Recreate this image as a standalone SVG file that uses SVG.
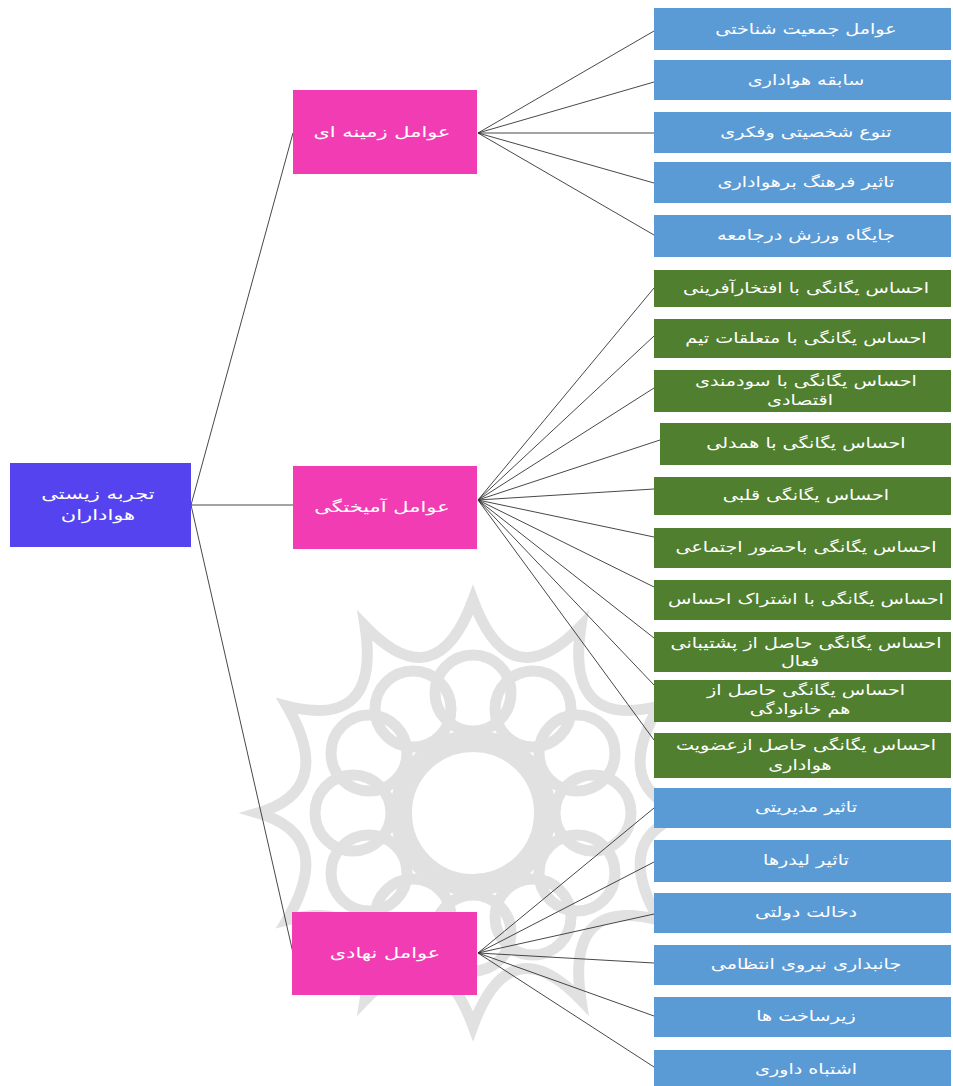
<svg xmlns="http://www.w3.org/2000/svg" width="953" height="1086" viewBox="0 0 953 1086">
<style>
.t{font-family:"DejaVu Sans","Noto Sans",sans-serif;font-size:14.5px;fill:#ffffff;text-anchor:middle;direction:rtl;transform-box:fill-box;transform-origin:center;transform:scaleX(1.32)}
.tp{font-size:15px;transform:scaleX(1.4)}
.blue{fill:#5b9bd5}
.green{fill:#4f7f2f}
.pink{fill:#f23cb4}
.root{fill:#5543f0}
.wm{fill:none;stroke:#dadada;stroke-width:11}
#connectors line{stroke:#333;stroke-width:0.9}
</style>
<rect width="953" height="1086" fill="#ffffff"/>
<g id="watermark" opacity="0.8">
<path class="wm" d="M473,600 Q510,700 581,626 Q565,730 659,706 Q610,790 688,813 Q610,836 659,920 Q565,896 581,1000 Q510,926 473,1026 Q436,926 365,1000 Q381,896 287,920 Q336,836 258,813 Q336,790 287,706 Q381,730 365,626 Q436,700 473,600 Z"/>
<g class="wm">
<circle cx="473" cy="693" r="38"/><circle cx="533" cy="709" r="38"/><circle cx="577" cy="753" r="38"/><circle cx="593" cy="813" r="38"/><circle cx="577" cy="873" r="38"/><circle cx="533" cy="917" r="38"/><circle cx="473" cy="933" r="38"/><circle cx="413" cy="917" r="38"/><circle cx="369" cy="873" r="38"/><circle cx="353" cy="813" r="38"/><circle cx="369" cy="753" r="38"/><circle cx="413" cy="709" r="38"/>
</g>
<circle cx="473" cy="813" r="72" fill="none" stroke="#dadada" stroke-width="22"/>
</g>
<g id="connectors">
<line x1="191" y1="505" x2="293" y2="133"/>
<line x1="191" y1="505" x2="293" y2="505"/>
<line x1="191" y1="505" x2="293" y2="953"/>
<line x1="478" y1="133" x2="654" y2="31"/>
<line x1="478" y1="133" x2="654" y2="82"/>
<line x1="478" y1="133" x2="654" y2="133"/>
<line x1="478" y1="133" x2="654" y2="183"/>
<line x1="478" y1="133" x2="654" y2="235"/>
<line x1="478" y1="500" x2="654" y2="288"/>
<line x1="478" y1="500" x2="654" y2="336"/>
<line x1="478" y1="500" x2="654" y2="388"/>
<line x1="478" y1="500" x2="660" y2="440"/>
<line x1="478" y1="500" x2="654" y2="489"/>
<line x1="478" y1="500" x2="654" y2="537"/>
<line x1="478" y1="500" x2="654" y2="587"/>
<line x1="478" y1="500" x2="654" y2="638"/>
<line x1="478" y1="500" x2="654" y2="685"/>
<line x1="478" y1="500" x2="654" y2="740"/>
<line x1="478" y1="953" x2="654" y2="808"/>
<line x1="478" y1="953" x2="654" y2="862"/>
<line x1="478" y1="953" x2="654" y2="914"/>
<line x1="478" y1="953" x2="654" y2="963"/>
<line x1="478" y1="953" x2="654" y2="1016"/>
<line x1="478" y1="953" x2="654" y2="1067"/>
</g>
<g id="root"><rect class="root" x="10" y="463" width="181" height="84"/><text class="t tp" x="98" y="499">تجربه زیستی</text><text class="t tp" x="98" y="520">هواداران</text></g>
<g id="p1"><rect class="pink" x="293" y="90" width="184" height="84"/><text class="t tp" x="382" y="137">عوامل زمینه ای</text></g>
<g id="p2"><rect class="pink" x="293" y="466" width="184" height="83"/><text class="t tp" x="382" y="512">عوامل آمیختگی</text></g>
<g id="p3"><rect class="pink" x="292" y="912" width="185" height="83"/><text class="t tp" x="385" y="958">عوامل نهادی</text></g>
<g id="b1"><rect class="blue" x="654" y="8" width="297" height="42"/><text class="t" x="806" y="34">عوامل جمعیت شناختی</text></g>
<g id="b2"><rect class="blue" x="654" y="60" width="297" height="40"/><text class="t" x="806" y="85">سابقه هواداری</text></g>
<g id="b3"><rect class="blue" x="654" y="112" width="297" height="41"/><text class="t" x="806" y="137">تنوع شخصیتی وفکری</text></g>
<g id="b4"><rect class="blue" x="654" y="162" width="297" height="41"/><text class="t" x="806" y="187">تاثیر فرهنگ برهواداری</text></g>
<g id="b5"><rect class="blue" x="654" y="215" width="297" height="42"/><text class="t" x="806" y="240">جایگاه ورزش درجامعه</text></g>
<g id="g1"><rect class="green" x="654" y="270" width="297" height="37"/><text class="t" x="806" y="293">احساس یگانگی با افتخارآفرینی</text></g>
<g id="g2"><rect class="green" x="654" y="319" width="297" height="39"/><text class="t" x="806" y="343">احساس یگانگی با متعلقات تیم</text></g>
<g id="g3"><rect class="green" x="654" y="370" width="297" height="42"/><text class="t" x="806" y="386">احساس یگانگی با سودمندی</text><text class="t" x="800" y="405">اقتصادی</text></g>
<g id="g4"><rect class="green" x="660" y="423" width="291" height="42"/><text class="t" x="806" y="448">احساس یگانگی با همدلی</text></g>
<g id="g5"><rect class="green" x="654" y="477" width="297" height="38"/><text class="t" x="806" y="500">احساس یگانگی قلبی</text></g>
<g id="g6"><rect class="green" x="654" y="528" width="297" height="40"/><text class="t" x="806" y="552">احساس یگانگی باحضور اجتماعی</text></g>
<g id="g7"><rect class="green" x="654" y="580" width="297" height="40"/><text class="t" x="806" y="604">احساس یگانگی با اشتراک احساس</text></g>
<g id="g8"><rect class="green" x="654" y="632" width="297" height="40"/><text class="t" x="806" y="648">احساس یگانگی حاصل از  پشتیبانی</text><text class="t" x="800" y="666">فعال</text></g>
<g id="g9"><rect class="green" x="654" y="680" width="297" height="42"/><text class="t" x="806" y="695">احساس یگانگی حاصل از</text><text class="t" x="800" y="714">هم خانوادگی</text></g>
<g id="g10"><rect class="green" x="654" y="733" width="297" height="45"/><text class="t" x="806" y="750">احساس یگانگی حاصل ازعضویت</text><text class="t" x="800" y="770">هواداری</text></g>
<g id="b6"><rect class="blue" x="654" y="788" width="297" height="40"/><text class="t" x="806" y="812">تاثیر مدیریتی</text></g>
<g id="b7"><rect class="blue" x="654" y="840" width="297" height="42"/><text class="t" x="806" y="865">تاثیر لیدرها</text></g>
<g id="b8"><rect class="blue" x="654" y="893" width="297" height="40"/><text class="t" x="806" y="917">دخالت دولتی</text></g>
<g id="b9"><rect class="blue" x="654" y="945" width="297" height="40"/><text class="t" x="806" y="969">جانبداری نیروی انتظامی</text></g>
<g id="b10"><rect class="blue" x="654" y="997" width="297" height="40"/><text class="t" x="806" y="1021">زیرساخت ها</text></g>
<g id="b11"><rect class="blue" x="654" y="1050" width="297" height="40"/><text class="t" x="806" y="1074">اشتباه داوری</text></g>
</svg>
